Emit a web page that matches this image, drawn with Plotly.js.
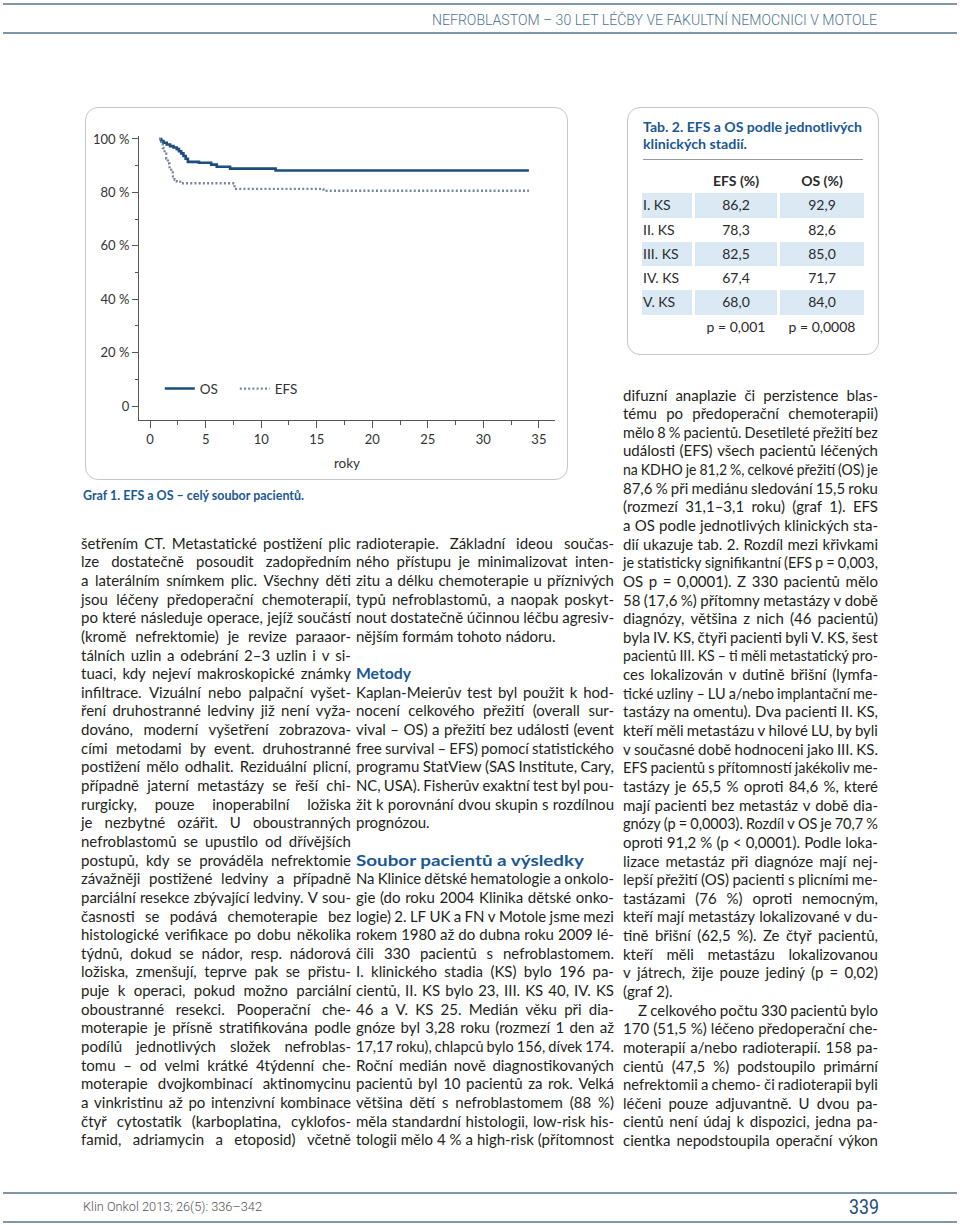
<!DOCTYPE html>
<html><head><meta charset="utf-8">
<script src="https://cdn.plot.ly/plotly-3.0.1.min.js"></script>
<style>
html,body{margin:0;padding:0;background:#fff;}
#page{position:relative;width:960px;height:1225px;overflow:hidden;font-family:Lato,"Open Sans",sans-serif;color:#231f20;background:#fff;}
.rule{position:absolute;left:3px;width:954px;height:2px;background:#7f95a8;}
.abs{position:absolute;white-space:nowrap;}
.abs span{display:inline-block;transform-origin:0 50%;}
.col{position:absolute;font-size:15px;line-height:18.65px;}
.ln{height:18.65px;white-space:nowrap;position:relative;}
.fl{display:flex;justify-content:space-between;transform-origin:0 50%;white-space:nowrap;}
.fl span{flex:0 0 auto;}
.pl{display:inline-block;transform-origin:0 50%;}
.hd{color:#1a5894;font-weight:700;font-size:16px;}
.box{position:absolute;border:1.5px solid #c6c6c6;border-radius:13px;box-sizing:border-box;}
#chart{position:absolute;left:85px;top:107px;width:483px;height:373px;}
#tab{position:absolute;left:642px;top:169px;border-collapse:separate;border-spacing:3px 0;margin-left:-3px;font-size:14px;color:#2a2a2a;}
#tab td{height:24.3px;padding:0;line-height:24.3px;}
#tab td.lab{width:49px;text-align:left;padding-left:1px;}
#tab td.v1{width:82px;text-align:center;}
#tab td.v2{width:84px;text-align:center;}
#tab tr.sh td{background:#dbe9f5;}
#tab tr.hdr td{font-weight:700;}
</style></head>
<body>
<div id="page">
  <div class="rule" style="top:3px"></div>
  <div class="abs" id="hdrtxt" style="left:432px;top:10px;font-size:15px;line-height:20px;font-weight:300;color:#4f7595;font-family:Roboto,sans-serif"><span>NEFROBLASTOM – 30 LET LÉČBY VE FAKULTNÍ NEMOCNICI V MOTOLE</span></div>
  <div class="rule" style="top:32px"></div>

  <div class="box" style="left:85px;top:107px;width:483px;height:373px"></div>
  <div id="chart"></div>
  <div class="abs" id="cap" style="left:83px;top:486px;font-size:14px;line-height:18px;font-weight:700;color:#1a5894"><span>Graf 1. EFS a OS – celý soubor pacientů.</span></div>

  <div class="box" style="left:627px;top:107px;width:252px;height:248px"></div>
  <div class="abs" id="tt1" style="left:643px;top:118px;font-size:14px;line-height:18px;font-weight:700;color:#1a5894"><span>Tab. 2. EFS a OS podle jednotlivých</span></div>
  <div class="abs" id="tt2" style="left:643px;top:135px;font-size:14px;line-height:18px;font-weight:700;color:#1a5894"><span>klinických stadií.</span></div>
  <div style="position:absolute;left:643px;top:159px;width:220px;height:1px;background:#9a9a9a"></div>
  <table id="tab"></table>

  <div class="col" id="c1" style="left:81px;top:533.7px;width:270px"></div>
  <div class="col" id="c2" style="left:356px;top:533.7px;width:258px"></div>
  <div class="col" id="c3" style="left:623px;top:385.5px;width:255px"></div>

  <div class="rule" style="top:1192px"></div>
  <div class="abs" id="foot" style="left:83px;top:1198px;font-size:13px;line-height:18px;font-weight:300;color:#555;font-family:Roboto,sans-serif"><span>Klin Onkol 2013; 26(5): 336–342</span></div>
  <div class="abs" id="pg" style="left:849px;top:1196px;font-size:20px;line-height:22px;font-weight:400;color:#1d4e7c;font-family:Roboto,sans-serif"><span>339</span></div>
  <div class="rule" style="top:1221px"></div>
</div>
<script>
// ---- chart data ----
const osYears  = [0.8, 1.0, 1.2, 1.5, 1.8, 2.1, 2.4, 2.6, 2.8, 3.0, 3.2, 3.4, 4.4, 5.5, 6.0, 7.2, 11.3, 34.1];
const osPct    = [100, 99.2, 98.6, 97.9, 97.3, 96.8, 96.2, 95.4, 94.6, 93.6, 92.6, 91.4, 91.1, 90.4, 89.6, 88.9, 88.2, 88.2];
const efsYears = [0.8, 1.0, 1.15, 1.3, 1.45, 1.6, 1.75, 1.9, 2.05, 2.2, 2.4, 2.7, 7.6, 15.6, 34.1];
const efsPct   = [100, 98.4, 96.6, 94.5, 92.6, 90.8, 89.0, 87.5, 86.0, 84.8, 84.0, 83.4, 81.3, 80.6, 80.6];
const xTicks = [0, 5, 10, 15, 20, 25, 30, 35];
const yTicks = [0, 20, 40, 60, 80, 100];
const yTickText = ['0', '20 %', '40 %', '60 %', '80 %', '100 %'];

// ---- table data ----
const stages = ['I. KS', 'II. KS', 'III. KS', 'IV. KS', 'V. KS'];
const efsStage = ['86,2', '78,3', '82,5', '67,4', '68,0'];
const osStage  = ['92,9', '82,6', '85,0', '71,7', '84,0'];
const pValues = ['p = 0,001', 'p = 0,0008'];

// ---- body text ----
const col1 = [
"šetřením CT. Metastatické postižení plic",
"lze dostatečně posoudit zadopředním",
"a laterálním snímkem plic. Všechny děti",
"jsou léčeny předoperační chemoterapií,",
"po které následuje operace, jejíž součástí",
"(kromě nefrektomie) je revize paraaor-",
"tálních uzlin a odebrání 2–3 uzlin i v si-",
"tuaci, kdy nejeví makroskopické známky",
"infiltrace. Vizuální nebo palpační vyšet-",
"ření druhostranné ledviny již není vyža-",
"dováno, moderní vyšetření zobrazova-",
"cími metodami by event. druhostranné",
"postižení mělo odhalit. Reziduální plicní,",
"případně jaterní metastázy se řeší chi-",
"rurgicky, pouze inoperabilní ložiska",
"je nezbytné ozářit. U oboustranných",
"nefroblastomů se upustilo od dřívějších",
"postupů, kdy se prováděla nefrektomie",
"závažněji postižené ledviny a případně",
"parciální resekce zbývající ledviny. V sou-",
"časnosti se podává chemoterapie bez",
"histologické verifikace po dobu několika",
"týdnů, dokud se nádor, resp. nádorová",
"ložiska, zmenšují, teprve pak se přistu-",
"puje k operaci, pokud možno parciální",
"oboustranné resekci. Pooperační che-",
"moterapie je přísně stratifikována podle",
"podílů jednotlivých složek nefroblas-",
"tomu – od velmi krátké 4týdenní che-",
"moterapie dvojkombinací aktinomycinu",
"a vinkristinu až po intenzivní kombinace",
"čtyř cytostatik (karboplatina, cyklofos-",
"famid, adriamycin a etoposid) včetně"];
const col2 = [
"radioterapie. Základní ideou součas-",
"ného přístupu je minimalizovat inten-",
"zitu a délku chemoterapie u příznivých",
"typů nefroblastomů, a naopak poskyt-",
"nout dostatečně účinnou léčbu agresiv-",
">nějším formám tohoto nádoru.",
"",
"#55|Metody",
"Kaplan-Meierův test byl použit k hod-",
"nocení celkového přežití (overall sur-",
"vival – OS) a přežití bez události (event",
"free survival – EFS) pomocí statistického",
"programu StatView (SAS Institute, Cary,",
"NC, USA). Fisherův exaktní test byl pou-",
"žit k porovnání dvou skupin s rozdílnou",
">prognózou.",
"",
"#228|Soubor pacientů a výsledky",
"Na Klinice dětské hematologie a onkolo-",
"gie (do roku 2004 Klinika dětské onko-",
"logie) 2. LF UK a FN v Motole jsme mezi",
"rokem 1980 až do dubna roku 2009 lé-",
"čili 330 pacientů s nefroblastomem.",
"I. klinického stadia (KS) bylo 196 pa-",
"cientů, II. KS bylo 23, III. KS 40, IV. KS",
"46 a V. KS 25. Medián věku při dia-",
"gnóze byl 3,28 roku (rozmezí 1 den až",
"17,17 roku), chlapců bylo 156, dívek 174.",
"Roční medián nově diagnostikovaných",
"pacientů byl 10 pacientů za rok. Velká",
"většina dětí s nefroblastomem (88 %)",
"měla standardní histologii, low-risk his-",
"tologii mělo 4 % a high-risk (přítomnost"];
const col3 = [
"difuzní anaplazie či perzistence blas-",
"tému po předoperační chemoterapii)",
"mělo 8 % pacientů. Desetileté přežití bez",
"události (EFS) všech pacientů léčených",
"na KDHO je 81,2 %, celkové přežití (OS) je",
"87,6 % při mediánu sledování 15,5 roku",
"(rozmezí 31,1–3,1 roku) (graf 1). EFS",
"a OS podle jednotlivých klinických sta-",
"dií ukazuje tab. 2. Rozdíl mezi křivkami",
"je statisticky signifikantní (EFS p = 0,003,",
"OS p = 0,0001). Z 330 pacientů mělo",
"58 (17,6 %) přítomny metastázy v době",
"diagnózy, většina z nich (46 pacientů)",
"byla IV. KS, čtyři pacienti byli V. KS, šest",
"pacientů III. KS – ti měli metastatický pro-",
"ces lokalizován v dutině břišní (lymfa-",
"tické uzliny – LU a/nebo implantační me-",
"tastázy na omentu). Dva pacienti II. KS,",
"kteří měli metastázu v hilové LU, by byli",
"v současné době hodnoceni jako III. KS.",
"EFS pacientů s přítomností jakékoliv me-",
"tastázy je 65,5 % oproti 84,6 %, které",
"mají pacienti bez metastáz v době dia-",
"gnózy (p = 0,0003). Rozdíl v OS je 70,7 %",
"oproti 91,2 % (p < 0,0001). Podle loka-",
"lizace metastáz při diagnóze mají nej-",
"lepší přežití (OS) pacienti s plicními me-",
"tastázami (76 %) oproti nemocným,",
"kteří mají metastázy lokalizované v du-",
"tině břišní (62,5 %). Ze čtyř pacientů,",
"kteří měli metastázu lokalizovanou",
"v játrech, žije pouze jediný (p = 0,02)",
">(graf 2).",
"+Z celkového počtu 330 pacientů bylo",
"170 (51,5 %) léčeno předoperační che-",
"moterapií a/nebo radioterapií. 158 pa-",
"cientů (47,5 %) podstoupilo primární",
"nefrektomii a chemo- či radioterapii byli",
"léčeni pouze adjuvantně. U dvou pa-",
"cientů není údaj k dispozici, jedna pa-",
"cientka nepodstoupila operační výkon"];

function buildCol(id, lines){
  const col = document.getElementById(id);
  const W0 = parseFloat(col.style.width);
  lines.forEach(raw=>{
    let t = raw.normalize('NFC').replace(/[\s\u00a0]+/g, ' ');
    const d = document.createElement('div'); d.className='ln';
    if (t.startsWith('#')) {
      d.classList.add('hd');
      const k = t.indexOf('|');
      const s = document.createElement('span'); s.className='pl';
      s.textContent = t.slice(k+1); s.dataset.fit = t.slice(1,k);
      d.appendChild(s);
    } else if (t.startsWith('>') || t === '') {
      const s = document.createElement('span'); s.className='pl';
      s.textContent = t ? t.slice(1) : '\u00a0';
      d.appendChild(s);
    } else {
      let indent = 0;
      if (t.startsWith('+')) { indent = 15; t = t.slice(1); d.style.paddingLeft = indent+'px'; }
      const fl = document.createElement('div'); fl.className='fl';
      fl.dataset.w = W0 - indent;
      fl.style.width = (W0 - indent) + 'px';
      t.split(' ').forEach(wd=>{ const s=document.createElement('span'); s.textContent=wd; fl.appendChild(s); });
      d.appendChild(fl);
    }
    col.appendChild(d);
  });
}
buildCol('c1', col1); buildCol('c2', col2); buildCol('c3', col3);

// table
(function(){
  const tab = document.getElementById('tab');
  let html = '<tr class="hdr"><td class="lab"></td><td class="v1">EFS (%)</td><td class="v2">OS (%)</td></tr>';
  stages.forEach((s,i)=>{
    html += '<tr class="'+(i%2===0?'sh':'')+'"><td class="lab">'+s+'</td><td class="v1">'+efsStage[i]+'</td><td class="v2">'+osStage[i]+'</td></tr>';
  });
  html += '<tr><td class="lab"></td><td class="v1">'+pValues[0]+'</td><td class="v2">'+pValues[1]+'</td></tr>';
  tab.innerHTML = html;
})();

function fitAll(){
  document.querySelectorAll('.fl').forEach(fl=>{
    try {
      const W = +fl.dataset.w;
      fl.style.transform=''; fl.style.width = W+'px';
      let sum = 0; const spans = fl.children;
      for (const s of spans) sum += s.getBoundingClientRect().width;
      const need = sum + 3.2*(spans.length-1);
      if (need > W) { fl.style.width = need+'px'; fl.style.transform = 'scaleX('+(W/need)+')'; }
    } catch(e) {}
  });
  document.querySelectorAll('.pl').forEach(s=>{
    try {
      if (!s.dataset.fit) return;
      s.style.transform='';
      const w = s.getBoundingClientRect().width;
      s.style.transform = 'scaleX('+(+s.dataset.fit/w)+')';
    } catch(e) {}
  });
  const fits = {hdrtxt:445, cap:221, tt1:219, tt2:104, foot:179, pg:30};
  Object.keys(fits).forEach(id=>{
    try {
      const s = document.getElementById(id).firstChild;
      s.style.transform='';
      const w = s.getBoundingClientRect().width;
      s.style.transform = 'scaleX('+(fits[id]/w)+')';
    } catch(e) {}
  });
}
fitAll();
if (document.fonts && document.fonts.ready) document.fonts.ready.then(fitAll);

// chart
const traces = [
  {x: osYears, y: osPct, name: 'OS', mode: 'lines', line: {shape: 'hv', color: '#1b4d7e', width: 2.6}},
  {x: efsYears, y: efsPct, name: 'EFS', mode: 'lines', line: {shape: 'hv', color: '#76869b', width: 2.3, dash: '2px,2.2px'}}
];
const layout = {
  width: 483, height: 373,
  margin: {l: 54, r: 13, t: 29, b: 60},
  paper_bgcolor: 'rgba(0,0,0,0)', plot_bgcolor: 'rgba(0,0,0,0)',
  font: {family: 'Lato, "Open Sans", sans-serif', size: 13, color: '#333'},
  showlegend: true,
  legend: {orientation: 'h', x: 0.05, y: 0.11, xanchor: 'left', yanchor: 'middle',
           font: {size: 13.5, color: '#333'}, bgcolor: 'rgba(0,0,0,0)', entrywidth: 30, entrywidthmode: 'pixels'},
  xaxis: {range: [-1, 36.45], tickmode: 'array', tickvals: xTicks, ticks: 'outside', ticklen: 7, tickwidth: 1,
          tickcolor: '#555', showline: true, linecolor: '#555', linewidth: 1, showgrid: false, zeroline: false,
          minor: {tickmode: 'linear', tick0: 0, dtick: 2.5, ticks: 'outside', ticklen: 4, tickcolor: '#555', showgrid: false},
          title: {text: 'roky', standoff: 12, font: {size: 13.5, color: '#333'}}, fixedrange: true},
  yaxis: {range: [-5.24, 101.1], tickmode: 'array', tickvals: yTicks, ticktext: yTickText, ticks: 'outside', ticklen: 6,
          tickwidth: 1, tickcolor: '#555', showline: true, linecolor: '#555', linewidth: 1, showgrid: false, zeroline: false,
          minor: {tickmode: 'linear', tick0: 0, dtick: 10, ticks: 'outside', ticklen: 3, tickcolor: '#555', showgrid: false},
          fixedrange: true}
};
Plotly.newPlot('chart', traces, layout, {displayModeBar: false, staticPlot: true});
</script>
</body></html>
